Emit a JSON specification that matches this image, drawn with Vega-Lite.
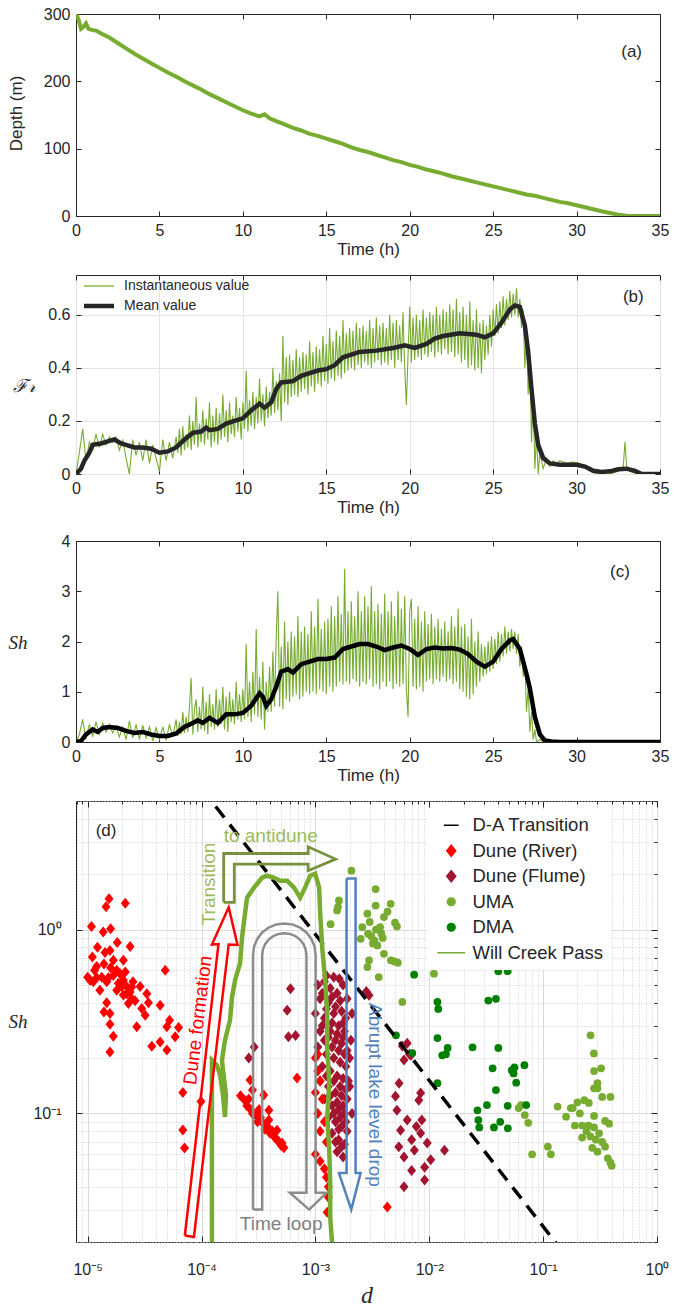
{
"$schema":"https://vega.github.io/schema/vega-lite/v6.json",
"background":"white",
"padding":{"left":6,"top":5,"right":4,"bottom":0},
"datasets":{
"depth":[{"t":0,"v":300},{"t":0.15,"v":292},{"t":0.3,"v":278},{"t":0.45,"v":281},{"t":0.6,"v":286},{"t":0.75,"v":278},{"t":1,"v":276},{"t":1.25,"v":275},{"t":1.5,"v":271},{"t":2,"v":265},{"t":2.5,"v":257},{"t":3,"v":249},{"t":3.5,"v":241},{"t":4,"v":234},{"t":4.5,"v":227},{"t":5,"v":220},{"t":5.5,"v":213},{"t":6,"v":207},{"t":6.5,"v":200},{"t":7,"v":194},{"t":7.5,"v":188},{"t":8,"v":181},{"t":8.5,"v":175},{"t":9,"v":169},{"t":9.5,"v":163},{"t":10,"v":157},{"t":10.5,"v":152},{"t":11,"v":148},{"t":11.3,"v":151},{"t":11.6,"v":145},{"t":12,"v":141},{"t":12.5,"v":136},{"t":13,"v":131},{"t":13.5,"v":127},{"t":14,"v":122},{"t":14.5,"v":119},{"t":15,"v":115},{"t":15.5,"v":111},{"t":16,"v":107},{"t":16.5,"v":102},{"t":17,"v":98},{"t":17.5,"v":95},{"t":18,"v":91},{"t":18.5,"v":87},{"t":19,"v":83},{"t":19.5,"v":80},{"t":20,"v":76},{"t":20.5,"v":73},{"t":21,"v":69},{"t":21.5,"v":66},{"t":22,"v":63},{"t":22.5,"v":59},{"t":23,"v":56},{"t":23.5,"v":53},{"t":24,"v":50},{"t":24.5,"v":47},{"t":25,"v":44},{"t":25.5,"v":41},{"t":26,"v":38},{"t":26.5,"v":35},{"t":27,"v":32},{"t":27.5,"v":30},{"t":28,"v":27},{"t":28.5,"v":24},{"t":29,"v":21},{"t":29.5,"v":19},{"t":30,"v":16},{"t":30.5,"v":13},{"t":31,"v":10},{"t":31.5,"v":7},{"t":32,"v":4.5},{"t":32.5,"v":2},{"t":33,"v":0.3},{"t":33.2,"v":0},{"t":35,"v":0}],
"frInst":[{"t":0,"v":0},{"t":0.2,"v":0.08},{"t":0.4,"v":0.17},{"t":0.6,"v":0.05},{"t":0.8,"v":0.12},{"t":1.0,"v":0.09},{"t":1.2,"v":0.15},{"t":1.4,"v":0.10},{"t":1.6,"v":0.15},{"t":1.8,"v":0.11},{"t":2.0,"v":0.14},{"t":2.2,"v":0.12},{"t":2.4,"v":0.14},{"t":2.6,"v":0.09},{"t":2.8,"v":0.13},{"t":3.0,"v":0.06},{"t":3.2,"v":0.0},{"t":3.4,"v":0.13},{"t":3.6,"v":0.07},{"t":3.8,"v":0.12},{"t":4.0,"v":0.05},{"t":4.2,"v":0.13},{"t":4.4,"v":0.04},{"t":4.6,"v":0.11},{"t":4.8,"v":0.06},{"t":5.0,"v":0.01},{"t":5.2,"v":0.13},{"t":5.4,"v":0.05},{"t":5.6,"v":0.12},{"t":5.8,"v":0.06},
{"t":6.0,"v":0.14},{"t":6.1,"v":0.08},{"t":6.2,"v":0.17},{"t":6.3,"v":0.07},{"t":6.4,"v":0.18},{"t":6.5,"v":0.09},{"t":6.6,"v":0.15},{"t":6.7,"v":0.10},{"t":6.8,"v":0.22},{"t":6.9,"v":0.09},{"t":7.0,"v":0.20},{"t":7.1,"v":0.11},{"t":7.2,"v":0.29},{"t":7.3,"v":0.10},{"t":7.4,"v":0.19},{"t":7.5,"v":0.12},{"t":7.6,"v":0.24},{"t":7.7,"v":0.11},{"t":7.8,"v":0.21},{"t":7.9,"v":0.13},{"t":8.0,"v":0.27},{"t":8.1,"v":0.10},{"t":8.2,"v":0.22},{"t":8.3,"v":0.12},{"t":8.4,"v":0.25},{"t":8.5,"v":0.11},{"t":8.6,"v":0.23},{"t":8.7,"v":0.13},{"t":8.8,"v":0.30},{"t":8.9,"v":0.14},{"t":9.0,"v":0.24},{"t":9.1,"v":0.12},{"t":9.2,"v":0.27},{"t":9.3,"v":0.15},{"t":9.4,"v":0.22},{"t":9.5,"v":0.14},{"t":9.6,"v":0.29},{"t":9.7,"v":0.16},{"t":9.8,"v":0.25},{"t":9.9,"v":0.13},
{"t":10.0,"v":0.27},{"t":10.1,"v":0.17},{"t":10.2,"v":0.39},{"t":10.3,"v":0.16},{"t":10.4,"v":0.28},{"t":10.5,"v":0.18},{"t":10.6,"v":0.31},{"t":10.7,"v":0.17},{"t":10.8,"v":0.29},{"t":10.9,"v":0.19},{"t":11.0,"v":0.36},{"t":11.1,"v":0.20},{"t":11.2,"v":0.30},{"t":11.3,"v":0.18},{"t":11.4,"v":0.33},{"t":11.5,"v":0.21},{"t":11.6,"v":0.31},{"t":11.7,"v":0.22},{"t":11.8,"v":0.40},{"t":11.9,"v":0.23},
{"t":12.0,"v":0.35},{"t":12.1,"v":0.24},{"t":12.2,"v":0.38},{"t":12.3,"v":0.20},{"t":12.4,"v":0.52},{"t":12.5,"v":0.27},{"t":12.6,"v":0.44},{"t":12.7,"v":0.26},{"t":12.8,"v":0.45},{"t":12.9,"v":0.29},{"t":13.0,"v":0.43},{"t":13.1,"v":0.30},{"t":13.2,"v":0.47},{"t":13.3,"v":0.29},{"t":13.4,"v":0.44},{"t":13.5,"v":0.31},{"t":13.6,"v":0.46},{"t":13.7,"v":0.32},{"t":13.8,"v":0.45},{"t":13.9,"v":0.30},
{"t":14.0,"v":0.50},{"t":14.1,"v":0.33},{"t":14.2,"v":0.46},{"t":14.3,"v":0.31},{"t":14.4,"v":0.48},{"t":14.5,"v":0.34},{"t":14.6,"v":0.47},{"t":14.7,"v":0.33},{"t":14.8,"v":0.52},{"t":14.9,"v":0.35},{"t":15.0,"v":0.49},{"t":15.1,"v":0.34},{"t":15.2,"v":0.55},{"t":15.3,"v":0.36},{"t":15.4,"v":0.50},{"t":15.5,"v":0.35},{"t":15.6,"v":0.54},{"t":15.7,"v":0.37},{"t":15.8,"v":0.52},{"t":15.9,"v":0.36},
{"t":16.0,"v":0.58},{"t":16.1,"v":0.38},{"t":16.2,"v":0.53},{"t":16.3,"v":0.39},{"t":16.4,"v":0.55},{"t":16.5,"v":0.40},{"t":16.6,"v":0.54},{"t":16.7,"v":0.39},{"t":16.8,"v":0.57},{"t":16.9,"v":0.41},{"t":17.0,"v":0.55},{"t":17.1,"v":0.40},{"t":17.2,"v":0.56},{"t":17.3,"v":0.42},{"t":17.4,"v":0.54},{"t":17.5,"v":0.41},{"t":17.6,"v":0.58},{"t":17.7,"v":0.40},{"t":17.8,"v":0.55},{"t":17.9,"v":0.42},
{"t":18.0,"v":0.59},{"t":18.1,"v":0.43},{"t":18.2,"v":0.56},{"t":18.3,"v":0.41},{"t":18.4,"v":0.57},{"t":18.5,"v":0.42},{"t":18.6,"v":0.55},{"t":18.7,"v":0.41},{"t":18.8,"v":0.60},{"t":18.9,"v":0.43},{"t":19.0,"v":0.57},{"t":19.1,"v":0.40},{"t":19.2,"v":0.58},{"t":19.3,"v":0.43},{"t":19.4,"v":0.56},{"t":19.5,"v":0.42},{"t":19.6,"v":0.61},{"t":19.7,"v":0.40},{"t":19.8,"v":0.26},{"t":19.9,"v":0.45},
{"t":20.0,"v":0.63},{"t":20.1,"v":0.42},{"t":20.2,"v":0.59},{"t":20.3,"v":0.43},{"t":20.4,"v":0.60},{"t":20.5,"v":0.44},{"t":20.6,"v":0.58},{"t":20.7,"v":0.43},{"t":20.8,"v":0.62},{"t":20.9,"v":0.45},{"t":21.0,"v":0.59},{"t":21.1,"v":0.44},{"t":21.2,"v":0.61},{"t":21.3,"v":0.46},{"t":21.4,"v":0.60},{"t":21.5,"v":0.44},{"t":21.6,"v":0.63},{"t":21.7,"v":0.46},{"t":21.8,"v":0.60},{"t":21.9,"v":0.45},
{"t":22.0,"v":0.62},{"t":22.1,"v":0.47},{"t":22.2,"v":0.61},{"t":22.3,"v":0.45},{"t":22.4,"v":0.64},{"t":22.5,"v":0.46},{"t":22.6,"v":0.62},{"t":22.7,"v":0.44},{"t":22.8,"v":0.66},{"t":22.9,"v":0.45},{"t":23.0,"v":0.61},{"t":23.1,"v":0.42},{"t":23.2,"v":0.63},{"t":23.3,"v":0.43},{"t":23.4,"v":0.60},{"t":23.5,"v":0.40},{"t":23.6,"v":0.65},{"t":23.7,"v":0.41},{"t":23.8,"v":0.58},{"t":23.9,"v":0.39},
{"t":24.0,"v":0.62},{"t":24.1,"v":0.40},{"t":24.2,"v":0.57},{"t":24.3,"v":0.38},{"t":24.4,"v":0.58},{"t":24.5,"v":0.43},{"t":24.6,"v":0.56},{"t":24.7,"v":0.45},{"t":24.8,"v":0.60},{"t":24.9,"v":0.48},{"t":25.0,"v":0.62},{"t":25.1,"v":0.52},{"t":25.2,"v":0.64},{"t":25.3,"v":0.53},{"t":25.4,"v":0.65},{"t":25.5,"v":0.55},{"t":25.6,"v":0.67},{"t":25.7,"v":0.56},{"t":25.8,"v":0.66},{"t":25.9,"v":0.58},
{"t":26.0,"v":0.69},{"t":26.1,"v":0.59},{"t":26.2,"v":0.68},{"t":26.3,"v":0.60},{"t":26.4,"v":0.70},{"t":26.5,"v":0.59},{"t":26.6,"v":0.66},{"t":26.7,"v":0.55},{"t":26.8,"v":0.62},{"t":26.9,"v":0.40},{"t":27.0,"v":0.55},{"t":27.1,"v":0.30},{"t":27.2,"v":0.45},{"t":27.3,"v":0.12},{"t":27.4,"v":0.30},{"t":27.5,"v":0.02},{"t":27.6,"v":0.15},{"t":27.7,"v":0.0},{"t":27.8,"v":0.08},
{"t":28.0,"v":0.02},{"t":28.2,"v":0.06},{"t":28.4,"v":0.03},{"t":28.6,"v":0.05},{"t":28.8,"v":0.04},{"t":29.0,"v":0.05},{"t":29.4,"v":0.04},{"t":29.8,"v":0.045},{"t":30.2,"v":0.04},{"t":30.6,"v":0.02},{"t":31.0,"v":0.005},{"t":31.5,"v":0},{"t":32.0,"v":0},{"t":32.5,"v":0.01},{"t":32.8,"v":0.03},{"t":32.9,"v":0.12},{"t":33.0,"v":0.03},{"t":33.2,"v":0.01},{"t":33.6,"v":0},{"t":35,"v":0}],
"frMean":[{"t":0,"v":0},{"t":0.3,"v":0.02},{"t":0.5,"v":0.05},{"t":0.8,"v":0.08},{"t":1.0,"v":0.11},{"t":1.5,"v":0.115},{"t":2.0,"v":0.125},{"t":2.3,"v":0.13},{"t":2.7,"v":0.115},{"t":3.0,"v":0.11},{"t":3.5,"v":0.10},{"t":4.0,"v":0.10},{"t":4.5,"v":0.095},{"t":5.0,"v":0.08},{"t":5.5,"v":0.085},{"t":6.0,"v":0.10},{"t":6.5,"v":0.13},{"t":7.0,"v":0.155},{"t":7.5,"v":0.16},{"t":7.8,"v":0.175},{"t":8.0,"v":0.165},{"t":8.5,"v":0.17},{"t":9.0,"v":0.19},{"t":9.5,"v":0.20},{"t":10.0,"v":0.21},{"t":10.5,"v":0.24},{"t":11.0,"v":0.265},{"t":11.3,"v":0.25},{"t":11.7,"v":0.27},{"t":12.0,"v":0.32},{"t":12.3,"v":0.345},{"t":13.0,"v":0.35},{"t":13.5,"v":0.37},{"t":14.0,"v":0.38},{"t":14.5,"v":0.39},{"t":15.0,"v":0.395},{"t":15.5,"v":0.41},{"t":16.0,"v":0.44},{"t":17.0,"v":0.46},{"t":18.0,"v":0.465},{"t":19.0,"v":0.475},{"t":19.7,"v":0.485},{"t":20.3,"v":0.475},{"t":21.0,"v":0.49},{"t":21.5,"v":0.51},{"t":22.0,"v":0.52},{"t":23.0,"v":0.53},{"t":24.0,"v":0.525},{"t":24.5,"v":0.515},{"t":25.0,"v":0.53},{"t":25.5,"v":0.57},{"t":26.0,"v":0.62},{"t":26.3,"v":0.635},{"t":26.6,"v":0.63},{"t":26.9,"v":0.56},{"t":27.1,"v":0.46},{"t":27.3,"v":0.32},{"t":27.5,"v":0.19},{"t":27.7,"v":0.11},{"t":28.0,"v":0.06},{"t":28.4,"v":0.04},{"t":29.0,"v":0.035},{"t":30.0,"v":0.035},{"t":30.5,"v":0.028},{"t":31.0,"v":0.012},{"t":31.5,"v":0.008},{"t":32.0,"v":0.01},{"t":32.5,"v":0.018},{"t":33.0,"v":0.02},{"t":33.5,"v":0.012},{"t":33.9,"v":0},{"t":35,"v":0}],
"shInst":[{"t":0,"v":0},{"t":0.2,"v":0.15},{"t":0.4,"v":0.45},{"t":0.6,"v":0.05},{"t":0.8,"v":0.35},{"t":1.0,"v":0.12},{"t":1.2,"v":0.40},{"t":1.4,"v":0.15},{"t":1.6,"v":0.38},{"t":1.8,"v":0.20},{"t":2.0,"v":0.35},{"t":2.2,"v":0.18},{"t":2.4,"v":0.32},{"t":2.6,"v":0.10},{"t":2.8,"v":0.30},{"t":3.0,"v":0.05},{"t":3.2,"v":0.42},{"t":3.4,"v":0.08},{"t":3.6,"v":0.35},{"t":3.8,"v":0.05},{"t":4.0,"v":0.33},{"t":4.2,"v":0.08},{"t":4.4,"v":0.30},{"t":4.6,"v":0.02},{"t":4.8,"v":0.28},{"t":5.0,"v":0.05},{"t":5.2,"v":0.30},{"t":5.4,"v":0.03},{"t":5.6,"v":0.35},{"t":5.8,"v":0.10},
{"t":6.0,"v":0.45},{"t":6.1,"v":0.12},{"t":6.2,"v":0.40},{"t":6.3,"v":0.15},{"t":6.4,"v":0.60},{"t":6.5,"v":0.18},{"t":6.6,"v":0.50},{"t":6.7,"v":0.20},{"t":6.8,"v":0.70},{"t":6.9,"v":1.28},{"t":7.0,"v":0.15},{"t":7.1,"v":0.65},{"t":7.2,"v":0.85},{"t":7.3,"v":0.20},{"t":7.4,"v":0.70},{"t":7.5,"v":0.25},{"t":7.6,"v":1.10},{"t":7.7,"v":0.22},{"t":7.8,"v":0.80},{"t":7.9,"v":0.15},
{"t":8.0,"v":0.95},{"t":8.1,"v":0.30},{"t":8.2,"v":0.75},{"t":8.3,"v":0.25},{"t":8.4,"v":1.05},{"t":8.5,"v":0.30},{"t":8.6,"v":0.85},{"t":8.7,"v":0.35},{"t":8.8,"v":1.10},{"t":8.9,"v":0.25},{"t":9.0,"v":0.90},{"t":9.1,"v":0.20},{"t":9.2,"v":1.00},{"t":9.3,"v":0.40},{"t":9.4,"v":0.85},{"t":9.5,"v":0.35},{"t":9.6,"v":1.20},{"t":9.7,"v":0.45},{"t":9.8,"v":0.95},{"t":9.9,"v":0.40},
{"t":10.0,"v":1.05},{"t":10.1,"v":0.45},{"t":10.2,"v":1.95},{"t":10.3,"v":0.50},{"t":10.4,"v":1.20},{"t":10.5,"v":0.40},{"t":10.6,"v":1.40},{"t":10.7,"v":0.55},{"t":10.8,"v":2.25},{"t":10.9,"v":0.50},{"t":11.0,"v":1.30},{"t":11.1,"v":0.45},{"t":11.2,"v":1.60},{"t":11.3,"v":0.25},{"t":11.4,"v":1.20},{"t":11.5,"v":0.60},{"t":11.6,"v":1.50},{"t":11.7,"v":0.60},{"t":11.8,"v":1.80},{"t":11.9,"v":0.70},
{"t":12.0,"v":2.10},{"t":12.1,"v":3.00},{"t":12.2,"v":0.70},{"t":12.3,"v":1.90},{"t":12.4,"v":0.65},{"t":12.5,"v":2.40},{"t":12.6,"v":0.85},{"t":12.7,"v":2.00},{"t":12.8,"v":0.80},{"t":12.9,"v":2.20},{"t":13.0,"v":0.90},{"t":13.1,"v":2.10},{"t":13.2,"v":0.95},{"t":13.3,"v":2.50},{"t":13.4,"v":0.85},{"t":13.5,"v":2.20},{"t":13.6,"v":0.90},{"t":13.7,"v":2.30},{"t":13.8,"v":1.00},{"t":13.9,"v":2.15},
{"t":14.0,"v":0.95},{"t":14.1,"v":2.60},{"t":14.2,"v":1.00},{"t":14.3,"v":2.30},{"t":14.4,"v":0.95},{"t":14.5,"v":2.85},{"t":14.6,"v":1.05},{"t":14.7,"v":2.25},{"t":14.8,"v":1.00},{"t":14.9,"v":2.40},{"t":15.0,"v":0.95},{"t":15.1,"v":2.45},{"t":15.2,"v":1.10},{"t":15.3,"v":2.70},{"t":15.4,"v":1.00},{"t":15.5,"v":2.50},{"t":15.6,"v":1.10},{"t":15.7,"v":2.90},{"t":15.8,"v":1.20},{"t":15.9,"v":2.55},
{"t":16.0,"v":1.15},{"t":16.1,"v":3.45},{"t":16.2,"v":1.20},{"t":16.3,"v":2.60},{"t":16.4,"v":1.15},{"t":16.5,"v":2.80},{"t":16.6,"v":1.25},{"t":16.7,"v":2.50},{"t":16.8,"v":1.20},{"t":16.9,"v":3.00},{"t":17.0,"v":1.10},{"t":17.1,"v":2.60},{"t":17.2,"v":1.20},{"t":17.3,"v":2.90},{"t":17.4,"v":1.15},{"t":17.5,"v":2.70},{"t":17.6,"v":1.25},{"t":17.7,"v":3.10},{"t":17.8,"v":1.10},{"t":17.9,"v":2.60},
{"t":18.0,"v":1.15},{"t":18.1,"v":2.75},{"t":18.2,"v":1.05},{"t":18.3,"v":2.55},{"t":18.4,"v":1.20},{"t":18.5,"v":2.95},{"t":18.6,"v":1.10},{"t":18.7,"v":2.60},{"t":18.8,"v":1.20},{"t":18.9,"v":2.80},{"t":19.0,"v":1.05},{"t":19.1,"v":2.50},{"t":19.2,"v":1.15},{"t":19.3,"v":3.00},{"t":19.4,"v":1.10},{"t":19.5,"v":2.65},{"t":19.6,"v":1.15},{"t":19.7,"v":2.90},{"t":19.8,"v":1.05},{"t":19.9,"v":0.50},
{"t":20.0,"v":2.60},{"t":20.1,"v":2.85},{"t":20.2,"v":1.10},{"t":20.3,"v":2.45},{"t":20.4,"v":1.05},{"t":20.5,"v":2.70},{"t":20.6,"v":1.10},{"t":20.7,"v":2.40},{"t":20.8,"v":1.00},{"t":20.9,"v":2.60},{"t":21.0,"v":1.20},{"t":21.1,"v":2.35},{"t":21.2,"v":1.25},{"t":21.3,"v":2.55},{"t":21.4,"v":1.15},{"t":21.5,"v":2.30},{"t":21.6,"v":1.25},{"t":21.7,"v":2.45},{"t":21.8,"v":1.20},{"t":21.9,"v":2.25},
{"t":22.0,"v":1.30},{"t":22.1,"v":2.40},{"t":22.2,"v":1.20},{"t":22.3,"v":2.20},{"t":22.4,"v":1.25},{"t":22.5,"v":2.50},{"t":22.6,"v":1.15},{"t":22.7,"v":2.30},{"t":22.8,"v":1.20},{"t":22.9,"v":2.65},{"t":23.0,"v":1.05},{"t":23.1,"v":2.30},{"t":23.2,"v":1.00},{"t":23.3,"v":2.35},{"t":23.4,"v":0.90},{"t":23.5,"v":2.10},{"t":23.6,"v":0.85},{"t":23.7,"v":2.45},{"t":23.8,"v":0.95},{"t":23.9,"v":2.00},
{"t":24.0,"v":1.10},{"t":24.1,"v":2.20},{"t":24.2,"v":1.20},{"t":24.3,"v":1.95},{"t":24.4,"v":1.30},{"t":24.5,"v":1.90},{"t":24.6,"v":1.35},{"t":24.7,"v":2.00},{"t":24.8,"v":1.40},{"t":24.9,"v":2.10},{"t":25.0,"v":1.45},{"t":25.1,"v":2.05},{"t":25.2,"v":1.55},{"t":25.3,"v":2.20},{"t":25.4,"v":1.60},{"t":25.5,"v":2.15},{"t":25.6,"v":1.70},{"t":25.7,"v":2.30},{"t":25.8,"v":1.75},{"t":25.9,"v":2.20},
{"t":26.0,"v":1.80},{"t":26.1,"v":2.25},{"t":26.2,"v":1.85},{"t":26.3,"v":2.20},{"t":26.4,"v":1.75},{"t":26.5,"v":2.15},{"t":26.6,"v":1.50},{"t":26.7,"v":1.90},{"t":26.8,"v":1.30},{"t":26.9,"v":1.60},{"t":27.0,"v":0.60},{"t":27.1,"v":1.10},{"t":27.2,"v":0.20},{"t":27.3,"v":0.60},{"t":27.4,"v":0.05},{"t":27.5,"v":0.25},{"t":27.6,"v":0},{"t":27.8,"v":0.05},{"t":28.0,"v":0},{"t":35,"v":0}],
"shMean":[{"t":0,"v":0},{"t":0.3,"v":0.02},{"t":0.6,"v":0.15},{"t":1.0,"v":0.25},{"t":1.3,"v":0.2},{"t":1.6,"v":0.28},{"t":2.0,"v":0.3},{"t":2.5,"v":0.28},{"t":3.0,"v":0.22},{"t":3.5,"v":0.18},{"t":4.0,"v":0.2},{"t":4.5,"v":0.15},{"t":5.0,"v":0.12},{"t":5.5,"v":0.12},{"t":6.0,"v":0.17},{"t":6.5,"v":0.3},{"t":7.0,"v":0.38},{"t":7.3,"v":0.43},{"t":7.6,"v":0.38},{"t":8.0,"v":0.48},{"t":8.5,"v":0.38},{"t":9.0,"v":0.55},{"t":9.5,"v":0.55},{"t":10.0,"v":0.58},{"t":10.5,"v":0.72},{"t":11.0,"v":0.97},{"t":11.2,"v":0.9},{"t":11.4,"v":0.72},{"t":11.7,"v":0.85},{"t":12.0,"v":1.1},{"t":12.3,"v":1.4},{"t":12.7,"v":1.45},{"t":13.0,"v":1.38},{"t":13.5,"v":1.55},{"t":14.0,"v":1.6},{"t":14.5,"v":1.65},{"t":15.0,"v":1.65},{"t":15.5,"v":1.68},{"t":16.0,"v":1.85},{"t":16.5,"v":1.9},{"t":17.0,"v":1.95},{"t":17.5,"v":1.95},{"t":18.0,"v":1.9},{"t":18.5,"v":1.83},{"t":19.0,"v":1.88},{"t":19.5,"v":1.92},{"t":20.0,"v":1.85},{"t":20.5,"v":1.73},{"t":21.0,"v":1.85},{"t":21.5,"v":1.88},{"t":22.0,"v":1.86},{"t":22.5,"v":1.87},{"t":23.0,"v":1.84},{"t":23.5,"v":1.75},{"t":24.0,"v":1.6},{"t":24.5,"v":1.5},{"t":25.0,"v":1.6},{"t":25.5,"v":1.85},{"t":26.0,"v":2.02},{"t":26.2,"v":2.05},{"t":26.6,"v":1.85},{"t":27.0,"v":1.35},{"t":27.2,"v":1.07},{"t":27.5,"v":0.5},{"t":27.8,"v":0.15},{"t":28.1,"v":0.03},{"t":28.5,"v":0.01},{"t":29,"v":0},{"t":35,"v":0}],
"scatter":[
{"d":6.04e-4,"sh":0.477,"series":"Dune (Flume)"},{"d":5.65e-4,"sh":0.364,"series":"Dune (Flume)"},{"d":5.8e-4,"sh":0.261,"series":"Dune (Flume)"},{"d":6.7e-4,"sh":0.265,"series":"Dune (Flume)"},{"d":2.6e-4,"sh":0.2,"series":"Dune (Flume)"},{"d":2.9e-4,"sh":0.23,"series":"Dune (Flume)"},
{"d":1.05e-3,"sh":0.5,"series":"Dune (Flume)"},{"d":1.2e-3,"sh":0.52,"series":"Dune (Flume)"},{"d":1.35e-3,"sh":0.48,"series":"Dune (Flume)"},{"d":1.55e-3,"sh":0.45,"series":"Dune (Flume)"},{"d":1.75e-3,"sh":0.5,"series":"Dune (Flume)"},{"d":1.9e-3,"sh":0.42,"series":"Dune (Flume)"},
{"d":1.1e-3,"sh":0.42,"series":"Dune (Flume)"},{"d":1.3e-3,"sh":0.4,"series":"Dune (Flume)"},{"d":1.5e-3,"sh":0.38,"series":"Dune (Flume)"},{"d":1.7e-3,"sh":0.36,"series":"Dune (Flume)"},{"d":1.85e-3,"sh":0.33,"series":"Dune (Flume)"},
{"d":1.0e-3,"sh":0.35,"series":"Dune (Flume)"},{"d":1.2e-3,"sh":0.33,"series":"Dune (Flume)"},{"d":1.4e-3,"sh":0.31,"series":"Dune (Flume)"},{"d":1.6e-3,"sh":0.3,"series":"Dune (Flume)"},{"d":1.8e-3,"sh":0.28,"series":"Dune (Flume)"},
{"d":1.1e-3,"sh":0.28,"series":"Dune (Flume)"},{"d":1.3e-3,"sh":0.26,"series":"Dune (Flume)"},{"d":1.5e-3,"sh":0.25,"series":"Dune (Flume)"},{"d":1.7e-3,"sh":0.24,"series":"Dune (Flume)"},{"d":1.9e-3,"sh":0.22,"series":"Dune (Flume)"},
{"d":1.05e-3,"sh":0.23,"series":"Dune (Flume)"},{"d":1.25e-3,"sh":0.21,"series":"Dune (Flume)"},{"d":1.45e-3,"sh":0.2,"series":"Dune (Flume)"},{"d":1.65e-3,"sh":0.19,"series":"Dune (Flume)"},{"d":1.85e-3,"sh":0.18,"series":"Dune (Flume)"},
{"d":1.15e-3,"sh":0.18,"series":"Dune (Flume)"},{"d":1.35e-3,"sh":0.17,"series":"Dune (Flume)"},{"d":1.55e-3,"sh":0.16,"series":"Dune (Flume)"},{"d":1.75e-3,"sh":0.155,"series":"Dune (Flume)"},{"d":1.95e-3,"sh":0.15,"series":"Dune (Flume)"},
{"d":1.1e-3,"sh":0.15,"series":"Dune (Flume)"},{"d":1.3e-3,"sh":0.14,"series":"Dune (Flume)"},{"d":1.5e-3,"sh":0.13,"series":"Dune (Flume)"},{"d":1.7e-3,"sh":0.125,"series":"Dune (Flume)"},{"d":1.9e-3,"sh":0.12,"series":"Dune (Flume)"},
{"d":1.2e-3,"sh":0.12,"series":"Dune (Flume)"},{"d":1.4e-3,"sh":0.11,"series":"Dune (Flume)"},{"d":1.6e-3,"sh":0.105,"series":"Dune (Flume)"},{"d":1.8e-3,"sh":0.1,"series":"Dune (Flume)"},
{"d":1.3e-3,"sh":0.095,"series":"Dune (Flume)"},{"d":1.5e-3,"sh":0.09,"series":"Dune (Flume)"},{"d":1.7e-3,"sh":0.085,"series":"Dune (Flume)"},{"d":1.9e-3,"sh":0.08,"series":"Dune (Flume)"},
{"d":1.4e-3,"sh":0.078,"series":"Dune (Flume)"},{"d":1.6e-3,"sh":0.072,"series":"Dune (Flume)"},{"d":1.8e-3,"sh":0.068,"series":"Dune (Flume)"},{"d":1.55e-3,"sh":0.062,"series":"Dune (Flume)"},{"d":1.75e-3,"sh":0.058,"series":"Dune (Flume)"},
{"d":2.0e-3,"sh":0.2,"series":"Dune (Flume)"},{"d":2.0e-3,"sh":0.14,"series":"Dune (Flume)"},{"d":2.1e-3,"sh":0.1,"series":"Dune (Flume)"},{"d":2.05e-3,"sh":0.25,"series":"Dune (Flume)"},{"d":2.1e-3,"sh":0.35,"series":"Dune (Flume)"},
{"d":1.25e-3,"sh":0.56,"series":"Dune (Flume)"},{"d":1.45e-3,"sh":0.55,"series":"Dune (Flume)"},{"d":1.62e-3,"sh":0.54,"series":"Dune (Flume)"},
{"d":1.15e-3,"sh":0.45,"series":"Dune (Flume)"},{"d":1.4e-3,"sh":0.43,"series":"Dune (Flume)"},{"d":1.65e-3,"sh":0.41,"series":"Dune (Flume)"},{"d":1.25e-3,"sh":0.37,"series":"Dune (Flume)"},{"d":1.45e-3,"sh":0.35,"series":"Dune (Flume)"},{"d":1.75e-3,"sh":0.31,"series":"Dune (Flume)"},{"d":1.15e-3,"sh":0.3,"series":"Dune (Flume)"},{"d":1.35e-3,"sh":0.28,"series":"Dune (Flume)"},{"d":1.55e-3,"sh":0.27,"series":"Dune (Flume)"},{"d":1.75e-3,"sh":0.26,"series":"Dune (Flume)"},{"d":1.2e-3,"sh":0.25,"series":"Dune (Flume)"},{"d":1.4e-3,"sh":0.23,"series":"Dune (Flume)"},{"d":1.6e-3,"sh":0.22,"series":"Dune (Flume)"},{"d":1.8e-3,"sh":0.21,"series":"Dune (Flume)"},{"d":1.25e-3,"sh":0.16,"series":"Dune (Flume)"},{"d":1.45e-3,"sh":0.15,"series":"Dune (Flume)"},{"d":1.65e-3,"sh":0.14,"series":"Dune (Flume)"},{"d":1.85e-3,"sh":0.135,"series":"Dune (Flume)"},{"d":1.35e-3,"sh":0.125,"series":"Dune (Flume)"},{"d":1.55e-3,"sh":0.115,"series":"Dune (Flume)"},{"d":1.75e-3,"sh":0.11,"series":"Dune (Flume)"},{"d":1.45e-3,"sh":0.1,"series":"Dune (Flume)"},{"d":1.65e-3,"sh":0.095,"series":"Dune (Flume)"},{"d":1.85e-3,"sh":0.09,"series":"Dune (Flume)"},{"d":1.6e-3,"sh":0.082,"series":"Dune (Flume)"},{"d":1.7e-3,"sh":0.066,"series":"Dune (Flume)"},{"d":1.5e-3,"sh":0.07,"series":"Dune (Flume)"},
{"d":2.96e-3,"sh":0.439,"series":"Dune (Flume)"},{"d":2.8e-3,"sh":0.46,"series":"Dune (Flume)"},{"d":6.4e-3,"sh":0.241,"series":"Dune (Flume)"},{"d":6.9e-3,"sh":0.207,"series":"Dune (Flume)"},{"d":6.0e-3,"sh":0.195,"series":"Dune (Flume)"},{"d":5.8e-3,"sh":0.233,"series":"Dune (Flume)"},{"d":6.7e-3,"sh":0.21,"series":"Dune (Flume)"},
{"d":5.43e-3,"sh":0.146,"series":"Dune (Flume)"},{"d":8.4e-3,"sh":0.129,"series":"Dune (Flume)"},{"d":8.1e-3,"sh":0.118,"series":"Dune (Flume)"},{"d":5.2e-3,"sh":0.104,"series":"Dune (Flume)"},{"d":6.4e-3,"sh":0.092,"series":"Dune (Flume)"},{"d":8.6e-3,"sh":0.092,"series":"Dune (Flume)"},{"d":8.4e-3,"sh":0.078,"series":"Dune (Flume)"},{"d":9.6e-3,"sh":0.069,"series":"Dune (Flume)"},{"d":7.4e-3,"sh":0.063,"series":"Dune (Flume)"},{"d":1.36e-2,"sh":0.063,"series":"Dune (Flume)"},{"d":5.4e-3,"sh":0.066,"series":"Dune (Flume)"},{"d":6.0e-3,"sh":0.058,"series":"Dune (Flume)"},{"d":7.0e-3,"sh":0.049,"series":"Dune (Flume)"},{"d":9.1e-3,"sh":0.051,"series":"Dune (Flume)"},{"d":6.0e-3,"sh":0.040,"series":"Dune (Flume)"},{"d":9.1e-3,"sh":0.0435,"series":"Dune (Flume)"},{"d":5.6e-3,"sh":0.081,"series":"Dune (Flume)"},{"d":7.0e-3,"sh":0.072,"series":"Dune (Flume)"},{"d":1.03e-2,"sh":0.056,"series":"Dune (Flume)"},{"d":7.7e-3,"sh":0.085,"series":"Dune (Flume)"},{"d":5.05e-3,"sh":0.124,"series":"Dune (Flume)"},
{"d":1.54e-5,"sh":1.47,"series":"Dune (River)"},{"d":2.14e-5,"sh":1.39,"series":"Dune (River)"},{"d":1.45e-5,"sh":1.33,"series":"Dune (River)"},{"d":1.08e-5,"sh":1.04,"series":"Dune (River)"},{"d":1.37e-5,"sh":0.97,"series":"Dune (River)"},{"d":1.59e-5,"sh":1.01,"series":"Dune (River)"},{"d":1.82e-5,"sh":0.85,"series":"Dune (River)"},{"d":2.36e-5,"sh":0.81,"series":"Dune (River)"},{"d":1.22e-5,"sh":0.80,"series":"Dune (River)"},{"d":1.57e-5,"sh":0.77,"series":"Dune (River)"},{"d":1.10e-5,"sh":0.71,"series":"Dune (River)"},{"d":1.42e-5,"sh":0.75,"series":"Dune (River)"},{"d":1.68e-5,"sh":0.68,"series":"Dune (River)"},{"d":2.06e-5,"sh":0.68,"series":"Dune (River)"},{"d":1.20e-5,"sh":0.63,"series":"Dune (River)"},{"d":1.39e-5,"sh":0.65,"series":"Dune (River)"},{"d":1.59e-5,"sh":0.62,"series":"Dune (River)"},{"d":1.80e-5,"sh":0.60,"series":"Dune (River)"},{"d":4.8e-5,"sh":0.60,"series":"Dune (River)"},{"d":1.05e-5,"sh":0.53,"series":"Dune (River)"},{"d":1.20e-5,"sh":0.547,"series":"Dune (River)"},{"d":1.33e-5,"sh":0.55,"series":"Dune (River)"},{"d":1.52e-5,"sh":0.547,"series":"Dune (River)"},{"d":1.68e-5,"sh":0.563,"series":"Dune (River)"},{"d":1.93e-5,"sh":0.575,"series":"Dune (River)"},{"d":2.14e-5,"sh":0.587,"series":"Dune (River)"},{"d":1.12e-5,"sh":0.52,"series":"Dune (River)"},{"d":1.47e-5,"sh":0.52,"series":"Dune (River)"},{"d":1.99e-5,"sh":0.49,"series":"Dune (River)"},{"d":2.2e-5,"sh":0.49,"series":"Dune (River)"},{"d":2.36e-5,"sh":0.457,"series":"Dune (River)"},{"d":2.06e-5,"sh":0.44,"series":"Dune (River)"},{"d":2.44e-5,"sh":0.42,"series":"Dune (River)"},{"d":2.89e-5,"sh":0.49,"series":"Dune (River)"},{"d":3.31e-5,"sh":0.448,"series":"Dune (River)"},{"d":2.61e-5,"sh":0.41,"series":"Dune (River)"},{"d":3.42e-5,"sh":0.40,"series":"Dune (River)"},{"d":4.33e-5,"sh":0.387,"series":"Dune (River)"},{"d":1.47e-5,"sh":0.40,"series":"Dune (River)"},{"d":1.39e-5,"sh":0.356,"series":"Dune (River)"},{"d":1.57e-5,"sh":0.35,"series":"Dune (River)"},{"d":2.99e-5,"sh":0.372,"series":"Dune (River)"},{"d":3.2e-5,"sh":0.342,"series":"Dune (River)"},{"d":1.57e-5,"sh":0.306,"series":"Dune (River)"},{"d":2.7e-5,"sh":0.296,"series":"Dune (River)"},{"d":5.24e-5,"sh":0.321,"series":"Dune (River)"},{"d":4.96e-5,"sh":0.296,"series":"Dune (River)"},{"d":6.29e-5,"sh":0.293,"series":"Dune (River)"},{"d":1.68e-5,"sh":0.263,"series":"Dune (River)"},{"d":5.87e-5,"sh":0.261,"series":"Dune (River)"},{"d":4.33e-5,"sh":0.245,"series":"Dune (River)"},{"d":3.66e-5,"sh":0.232,"series":"Dune (River)"},{"d":4.96e-5,"sh":0.221,"series":"Dune (River)"},{"d":1.57e-5,"sh":0.216,"series":"Dune (River)"},{"d":1.8e-5,"sh":0.467,"series":"Dune (River)"},{"d":2.06e-5,"sh":0.53,"series":"Dune (River)"},{"d":2.28e-5,"sh":0.396,"series":"Dune (River)"},{"d":1.28e-5,"sh":0.467,"series":"Dune (River)"},{"d":2.2e-5,"sh":0.448,"series":"Dune (River)"},{"d":2.44e-5,"sh":0.487,"series":"Dune (River)"},{"d":1.86e-5,"sh":0.51,"series":"Dune (River)"},{"d":1.0e-5,"sh":0.55,"series":"Dune (River)"},{"d":1.15e-5,"sh":0.6,"series":"Dune (River)"},{"d":2.5e-5,"sh":0.52,"series":"Dune (River)"},
{"d":6.85e-5,"sh":0.130,"series":"Dune (River)"},{"d":6.85e-5,"sh":0.0814,"series":"Dune (River)"},{"d":7.09e-5,"sh":0.0648,"series":"Dune (River)"},{"d":9.9e-5,"sh":0.116,"series":"Dune (River)"},
{"d":2.2e-4,"sh":0.125,"series":"Dune (River)"},{"d":2.4e-4,"sh":0.118,"series":"Dune (River)"},{"d":2.5e-4,"sh":0.11,"series":"Dune (River)"},{"d":2.6e-4,"sh":0.12,"series":"Dune (River)"},{"d":2.7e-4,"sh":0.105,"series":"Dune (River)"},{"d":2.8e-4,"sh":0.1,"series":"Dune (River)"},{"d":3.0e-4,"sh":0.098,"series":"Dune (River)"},{"d":3.1e-4,"sh":0.09,"series":"Dune (River)"},{"d":3.3e-4,"sh":0.095,"series":"Dune (River)"},{"d":3.5e-4,"sh":0.088,"series":"Dune (River)"},{"d":3.6e-4,"sh":0.082,"series":"Dune (River)"},{"d":3.8e-4,"sh":0.085,"series":"Dune (River)"},{"d":4.0e-4,"sh":0.078,"series":"Dune (River)"},{"d":4.2e-4,"sh":0.08,"series":"Dune (River)"},{"d":4.4e-4,"sh":0.074,"series":"Dune (River)"},{"d":4.6e-4,"sh":0.072,"series":"Dune (River)"},{"d":4.8e-4,"sh":0.07,"series":"Dune (River)"},{"d":5.0e-4,"sh":0.067,"series":"Dune (River)"},{"d":5.3e-4,"sh":0.065,"series":"Dune (River)"},{"d":3.2e-4,"sh":0.105,"series":"Dune (River)"},{"d":3.9e-4,"sh":0.092,"series":"Dune (River)"},{"d":2.67e-4,"sh":0.152,"series":"Dune (River)"},{"d":2.8e-4,"sh":0.134,"series":"Dune (River)"},{"d":3.52e-4,"sh":0.126,"series":"Dune (River)"},{"d":3.9e-4,"sh":0.104,"series":"Dune (River)"},{"d":4.6e-4,"sh":0.081,"series":"Dune (River)"},{"d":5.1e-4,"sh":0.069,"series":"Dune (River)"},
{"d":1.0e-3,"sh":0.2,"series":"Dune (River)"},{"d":1.05e-3,"sh":0.17,"series":"Dune (River)"},{"d":1.1e-3,"sh":0.15,"series":"Dune (River)"},{"d":1.0e-3,"sh":0.13,"series":"Dune (River)"},{"d":1.15e-3,"sh":0.12,"series":"Dune (River)"},{"d":1.05e-3,"sh":0.1,"series":"Dune (River)"},{"d":1.2e-3,"sh":0.09,"series":"Dune (River)"},{"d":1.1e-3,"sh":0.08,"series":"Dune (River)"},{"d":1.25e-3,"sh":0.07,"series":"Dune (River)"},{"d":1.0e-3,"sh":0.06,"series":"Dune (River)"},{"d":1.1e-3,"sh":0.055,"series":"Dune (River)"},{"d":1.2e-3,"sh":0.05,"series":"Dune (River)"},{"d":1.25e-3,"sh":0.045,"series":"Dune (River)"},{"d":1.3e-3,"sh":0.04,"series":"Dune (River)"},{"d":1.3e-3,"sh":0.035,"series":"Dune (River)"},{"d":1.27e-3,"sh":0.029,"series":"Dune (River)"},{"d":6.9e-4,"sh":0.156,"series":"Dune (River)"},{"d":4.28e-3,"sh":0.031,"series":"Dune (River)"},{"d":1.05e-3,"sh":0.21,"series":"Dune (River)"},
{"d":2.07e-3,"sh":2.09,"series":"UMA"},{"d":3.38e-3,"sh":1.66,"series":"UMA"},{"d":1.61e-3,"sh":1.44,"series":"UMA"},{"d":1.55e-3,"sh":1.27,"series":"UMA"},{"d":1.58e-3,"sh":1.33,"series":"UMA"},{"d":3.38e-3,"sh":1.35,"series":"UMA"},{"d":4.58e-3,"sh":1.38,"series":"UMA"},{"d":1.36e-3,"sh":1.07,"series":"UMA"},{"d":2.86e-3,"sh":1.22,"series":"UMA"},{"d":4.0e-3,"sh":1.17,"series":"UMA"},{"d":5.0e-3,"sh":1.09,"series":"UMA"},{"d":5.2e-3,"sh":1.04,"series":"UMA"},{"d":3.7e-3,"sh":1.03,"series":"UMA"},{"d":2.58e-3,"sh":1.03,"series":"UMA"},{"d":2.9e-3,"sh":0.95,"series":"UMA"},{"d":3.1e-3,"sh":0.92,"series":"UMA"},{"d":3.3e-3,"sh":0.87,"series":"UMA"},{"d":3.5e-3,"sh":0.82,"series":"UMA"},{"d":3.2e-3,"sh":0.84,"series":"UMA"},{"d":2.5e-3,"sh":0.89,"series":"UMA"},{"d":3.9e-3,"sh":0.9,"series":"UMA"},{"d":3.8e-3,"sh":0.95,"series":"UMA"},{"d":4.0e-3,"sh":0.738,"series":"UMA"},{"d":4.94e-3,"sh":0.671,"series":"UMA"},{"d":5.3e-3,"sh":0.66,"series":"UMA"},{"d":4.6e-3,"sh":0.68,"series":"UMA"},{"d":2.96e-3,"sh":0.68,"series":"UMA"},{"d":2.86e-3,"sh":0.625,"series":"UMA"},{"d":3.6e-3,"sh":0.552,"series":"UMA"},{"d":5.8e-3,"sh":0.404,"series":"UMA"},{"d":1.1e-2,"sh":0.575,"series":"UMA"},{"d":3.0e-3,"sh":1.1,"series":"UMA"},{"d":3.4e-3,"sh":1.0,"series":"UMA"},{"d":4.3e-3,"sh":1.25,"series":"UMA"},
{"d":0.261,"sh":0.266,"series":"UMA"},{"d":0.279,"sh":0.212,"series":"UMA"},{"d":0.323,"sh":0.176,"series":"UMA"},{"d":0.30,"sh":0.137,"series":"UMA"},{"d":0.28,"sh":0.137,"series":"UMA"},{"d":0.33,"sh":0.123,"series":"UMA"},{"d":0.39,"sh":0.123,"series":"UMA"},{"d":0.252,"sh":0.114,"series":"UMA"},{"d":0.182,"sh":0.107,"series":"UMA"},{"d":0.175,"sh":0.107,"series":"UMA"},{"d":0.134,"sh":0.109,"series":"UMA"},{"d":0.159,"sh":0.096,"series":"UMA"},{"d":0.28,"sh":0.097,"series":"UMA"},{"d":0.35,"sh":0.091,"series":"UMA"},{"d":0.38,"sh":0.088,"series":"UMA"},{"d":0.19,"sh":0.086,"series":"UMA"},{"d":0.22,"sh":0.086,"series":"UMA"},{"d":0.25,"sh":0.086,"series":"UMA"},{"d":0.28,"sh":0.084,"series":"UMA"},{"d":0.064,"sh":0.111,"series":"UMA"},{"d":0.069,"sh":0.098,"series":"UMA"},{"d":0.074,"sh":0.089,"series":"UMA"},{"d":0.37,"sh":0.057,"series":"UMA"},{"d":0.40,"sh":0.052,"series":"UMA"},{"d":0.39,"sh":0.054,"series":"UMA"},{"d":0.24,"sh":0.08,"series":"UMA"},{"d":0.26,"sh":0.075,"series":"UMA"},{"d":0.29,"sh":0.072,"series":"UMA"},{"d":0.31,"sh":0.078,"series":"UMA"},{"d":0.22,"sh":0.074,"series":"UMA"},{"d":0.33,"sh":0.07,"series":"UMA"},{"d":0.11,"sh":0.066,"series":"UMA"},{"d":0.117,"sh":0.06,"series":"UMA"},{"d":0.08,"sh":0.06,"series":"UMA"},{"d":0.061,"sh":0.107,"series":"UMA"},{"d":0.2,"sh":0.115,"series":"UMA"},{"d":0.23,"sh":0.118,"series":"UMA"},{"d":0.3,"sh":0.146,"series":"UMA"},{"d":0.28,"sh":0.17,"series":"UMA"},{"d":0.21,"sh":0.1,"series":"UMA"},{"d":0.27,"sh":0.065,"series":"UMA"},{"d":0.35,"sh":0.066,"series":"UMA"},{"d":0.3,"sh":0.062,"series":"UMA"},
{"d":4.04e-2,"sh":0.594,"series":"DMA"},{"d":4.88e-2,"sh":0.594,"series":"DMA"},{"d":3.30e-2,"sh":0.411,"series":"DMA"},{"d":3.85e-2,"sh":0.42,"series":"DMA"},{"d":2.40e-2,"sh":0.229,"series":"DMA"},{"d":4.04e-2,"sh":0.227,"series":"DMA"},{"d":3.6e-2,"sh":0.176,"series":"DMA"},{"d":5.3e-2,"sh":0.172,"series":"DMA"},{"d":5.6e-2,"sh":0.178,"series":"DMA"},{"d":5.5e-2,"sh":0.165,"series":"DMA"},{"d":6.85e-2,"sh":0.183,"series":"DMA"},{"d":5.8e-2,"sh":0.147,"series":"DMA"},{"d":3.85e-2,"sh":0.134,"series":"DMA"},{"d":3.21e-2,"sh":0.111,"series":"DMA"},{"d":4.88e-2,"sh":0.110,"series":"DMA"},{"d":7.1e-2,"sh":0.111,"series":"DMA"},{"d":2.65e-2,"sh":0.104,"series":"DMA"},{"d":2.7e-2,"sh":0.092,"series":"DMA"},{"d":2.75e-2,"sh":0.084,"series":"DMA"},{"d":4.2e-2,"sh":0.090,"series":"DMA"},{"d":4.9e-2,"sh":0.083,"series":"DMA"},{"d":3.7e-2,"sh":0.084,"series":"DMA"},{"d":7.36e-3,"sh":0.568,"series":"DMA"},{"d":1.18e-2,"sh":0.404,"series":"DMA"},{"d":1.2e-2,"sh":0.37,"series":"DMA"},{"d":1.18e-2,"sh":0.257,"series":"DMA"},{"d":1.45e-2,"sh":0.227,"series":"DMA"},{"d":1.4e-2,"sh":0.21,"series":"DMA"},{"d":5.1e-3,"sh":0.266,"series":"DMA"},{"d":7.1e-3,"sh":0.213,"series":"DMA"},{"d":1.3e-2,"sh":0.207,"series":"DMA"},{"d":1.18e-2,"sh":0.146,"series":"DMA"}
],
"wcp":[{"i":1,"d":1.234e-4,"sh":0.019},{"i":2,"d":1.234e-4,"sh":0.118},{"i":3,"d":1.234e-4,"sh":0.195},{"i":4,"d":1.366e-4,"sh":0.183},{"i":5,"d":1.452e-4,"sh":0.162},{"i":6,"d":1.543e-4,"sh":0.126},{"i":7,"d":1.607e-4,"sh":0.0957},{"i":8,"d":1.64e-4,"sh":0.126},{"i":9,"d":1.543e-4,"sh":0.172},{"i":10,"d":1.512e-4,"sh":0.195},{"i":11,"d":1.607e-4,"sh":0.25},{"i":12,"d":1.778e-4,"sh":0.321},{"i":13,"d":1.852e-4,"sh":0.428},{"i":14,"d":1.968e-4,"sh":0.529},{"i":15,"d":2.178e-4,"sh":0.654},{"i":16,"d":2.268e-4,"sh":0.905},{"i":17,"d":2.41e-4,"sh":1.221},{"i":18,"d":2.51e-4,"sh":1.491},{"i":19,"d":2.89e-4,"sh":1.689},{"i":20,"d":3.4e-4,"sh":1.913},{"i":21,"d":3.77e-4,"sh":1.962},{"i":22,"d":4.34e-4,"sh":1.913},{"i":23,"d":4.9e-4,"sh":1.844},{"i":24,"d":5.65e-4,"sh":1.844},{"i":25,"d":6.5e-4,"sh":1.689},{"i":26,"d":7.35e-4,"sh":1.491},{"i":27,"d":8.12e-4,"sh":1.689},{"i":28,"d":8.99e-4,"sh":1.962},{"i":29,"d":9.95e-4,"sh":2.012},{"i":30,"d":1.079e-3,"sh":1.689},{"i":31,"d":1.102e-3,"sh":1.221},{"i":32,"d":1.148e-3,"sh":0.799},{"i":33,"d":1.219e-3,"sh":0.529},{"i":34,"d":1.271e-3,"sh":0.351},{"i":35,"d":1.271e-3,"sh":0.229},{"i":36,"d":1.323e-3,"sh":0.146},{"i":37,"d":1.271e-3,"sh":0.0957},{"i":38,"d":1.323e-3,"sh":0.0634},{"i":39,"d":1.349e-3,"sh":0.042},{"i":40,"d":1.349e-3,"sh":0.0275},{"i":41,"d":1.406e-3,"sh":0.019}],
"da":[{"i":1,"d":1e-4,"sh":5.86},{"i":2,"d":0.2,"sh":0.014}],
"arrowRed":[{"i":1,"d":7.14e-5,"sh":0.0217},{"i":2,"d":1.409e-4,"sh":0.834},{"i":3,"d":1.234e-4,"sh":0.829},{"i":4,"d":1.732e-4,"sh":1.321},{"i":5,"d":2.07e-4,"sh":0.824},{"i":6,"d":1.732e-4,"sh":0.829},{"i":7,"d":8.57e-5,"sh":0.0213},{"i":8,"d":7.14e-5,"sh":0.0217}],
"arrowGreen":[{"i":1,"d":1.565e-4,"sh":1.406},{"i":2,"d":1.565e-4,"sh":2.592},{"i":3,"d":8.64e-4,"sh":2.592},{"i":4,"d":8.64e-4,"sh":2.818},{"i":5,"d":1.503e-3,"sh":2.416},{"i":6,"d":8.64e-4,"sh":2.088},{"i":7,"d":8.64e-4,"sh":2.27},{"i":8,"d":1.94e-4,"sh":2.27},{"i":9,"d":1.94e-4,"sh":1.406},{"i":10,"d":1.565e-4,"sh":1.406}],
"loopGray":[{"i":1,"d":2.835e-4,"sh":0.03},{"i":2,"d":2.835e-4,"sh":0.732},{"i":3,"d":2.896e-4,"sh":0.81},{"i":4,"d":3.085e-4,"sh":0.889},{"i":5,"d":3.41e-4,"sh":0.964},{"i":6,"d":3.89e-4,"sh":1.025},{"i":7,"d":4.53e-4,"sh":1.066},{"i":8,"d":5.335e-4,"sh":1.08},{"i":9,"d":6.284e-4,"sh":1.066},{"i":10,"d":7.318e-4,"sh":1.025},{"i":11,"d":8.342e-4,"sh":0.964},{"i":12,"d":9.222e-4,"sh":0.889},{"i":13,"d":9.826e-4,"sh":0.81},{"i":14,"d":1.0042e-3,"sh":0.732},{"i":15,"d":1.0042e-3,"sh":0.0371},{"i":16,"d":1.252e-3,"sh":0.0371},{"i":17,"d":8.82e-4,"sh":0.03},{"i":18,"d":5.964e-4,"sh":0.0371},{"i":19,"d":8.35e-4,"sh":0.0371},{"i":20,"d":8.35e-4,"sh":0.726},{"i":21,"d":8.225e-4,"sh":0.779},{"i":22,"d":7.863e-4,"sh":0.833},{"i":23,"d":7.32e-4,"sh":0.882},{"i":24,"d":6.675e-4,"sh":0.922},{"i":25,"d":5.99e-4,"sh":0.947},{"i":26,"d":5.335e-4,"sh":0.956},{"i":27,"d":4.751e-4,"sh":0.947},{"i":28,"d":4.264e-4,"sh":0.922},{"i":29,"d":3.886e-4,"sh":0.882},{"i":30,"d":3.62e-4,"sh":0.833},{"i":31,"d":3.46e-4,"sh":0.779},{"i":32,"d":3.409e-4,"sh":0.726},{"i":33,"d":3.409e-4,"sh":0.03},{"i":34,"d":2.835e-4,"sh":0.03}],
"arrowBlue":[{"i":1,"d":1.878e-3,"sh":1.897},{"i":2,"d":2.254e-3,"sh":1.897},{"i":3,"d":2.254e-3,"sh":0.0474},{"i":4,"d":2.495e-3,"sh":0.0474},{"i":5,"d":2.066e-3,"sh":0.03},{"i":6,"d":1.61e-3,"sh":0.0474},{"i":7,"d":1.878e-3,"sh":0.0474},{"i":8,"d":1.878e-3,"sh":1.897}]
},
"concat":[
{
"width":584,"height":202,
"encoding":{
"x":{"field":"t","type":"quantitative","scale":{"domain":[0,35],"nice":false,"zero":false},"axis":null},
"y":{"field":"v","type":"quantitative","scale":{"domain":[0,300],"nice":false},"axis":null}
},
"layer":[
{"data":{"name":"depth"},"mark":{"type":"line","color":"#77AC30","strokeWidth":4,"clip":true},
"encoding":{
"x":{"field":"t","type":"quantitative","scale":{"domain":[0,35],"nice":false,"zero":false},"axis":{"values":[0,5,10,15,20,25,30,35],"title":"Time (h)"}},
"y":{"field":"v","type":"quantitative","scale":{"domain":[0,300],"nice":false},"axis":{"values":[0,100,200,300],"title":"Depth (m)","titleAngle":270,"titleX":-60,"titleY":99,"titleBaseline":"middle","titleAlign":"center"}}
}},
{"data":{"values":[{"t":33.3,"v":244,"label":"(a)"}]},"mark":{"type":"text","fontSize":17,"color":"#262626"},
"encoding":{
"x":{"field":"t","type":"quantitative","scale":{"domain":[0,35],"nice":false,"zero":false},"axis":{"orient":"top","values":[0,5,10,15,20,25,30,35],"labels":false,"title":null}},
"y":{"field":"v","type":"quantitative","scale":{"domain":[0,300],"nice":false},"axis":{"orient":"right","values":[0,100,200,300],"labels":false,"title":null}},
"text":{"field":"label"}
}}
],
"resolve":{"axis":{"x":"independent","y":"independent"}}
},
{
"width":584,"height":199,
"encoding":{
"x":{"field":"t","type":"quantitative","scale":{"domain":[0,35],"nice":false,"zero":false},"axis":null},
"y":{"field":"v","type":"quantitative","scale":{"domain":[0,0.75],"nice":false},"axis":null}
},
"layer":[
{"data":{"name":"frInst"},"mark":{"type":"line","strokeWidth":1.1,"clip":true},
"encoding":{
"x":{"field":"t","type":"quantitative","scale":{"domain":[0,35],"nice":false,"zero":false},"axis":{"values":[0,5,10,15,20,25,30,35],"title":"Time (h)","grid":true}},
"y":{"field":"v","type":"quantitative","scale":{"domain":[0,0.75],"nice":false},"axis":{"values":[0,0.2,0.4,0.6],"format":"~g","grid":true,"title":"ℱ𝓇","titleAngle":0,"titleAlign":"left","titleBaseline":"middle","titleX":-64,"titleY":111,"titleFont":"DejaVu Serif","titleFontStyle":"italic","titleFontSize":18}},
"color":{"datum":"Instantaneous value","type":"nominal","scale":{"domain":["Instantaneous value","Mean value"],"range":["#77AC30","#262626"]},
"legend":{"title":null,"orient":"none","legendX":16,"legendY":4,"padding":0,"symbolType":"stroke","symbolSize":900,"symbolOffset":0,"labelOffset":18,"rowPadding":4,"labelFontSize":14,"labelFont":"Liberation Sans","labelColor":"#262626","encode":{"symbols":{"update":{"strokeWidth":{"signal":"datum.value === 'Mean value' ? 4.5 : 1.3"}}}}}}
}},
{"data":{"name":"frMean"},"mark":{"type":"line","strokeWidth":4.5,"clip":true},
"encoding":{
"color":{"datum":"Mean value","type":"nominal","scale":{"domain":["Instantaneous value","Mean value"],"range":["#77AC30","#262626"]},
"legend":{"title":null,"orient":"none","legendX":16,"legendY":4,"padding":0,"symbolType":"stroke","symbolSize":900,"symbolOffset":0,"labelOffset":18,"rowPadding":4,"labelFontSize":14,"labelFont":"Liberation Sans","labelColor":"#262626","encode":{"symbols":{"update":{"strokeWidth":{"signal":"datum.value === 'Mean value' ? 4.5 : 1.3"}}}}}}
}},
{"data":{"values":[{"t":33.4,"v":0.666,"label":"(b)"}]},"mark":{"type":"text","fontSize":17,"color":"#262626"},
"encoding":{
"x":{"field":"t","type":"quantitative","scale":{"domain":[0,35],"nice":false,"zero":false},"axis":{"orient":"top","values":[0,5,10,15,20,25,30,35],"labels":false,"title":null}},
"y":{"field":"v","type":"quantitative","scale":{"domain":[0,0.75],"nice":false},"axis":{"orient":"right","values":[0,0.2,0.4,0.6],"labels":false,"title":null}},
"text":{"field":"label"}
}}
],
"resolve":{"axis":{"x":"independent","y":"independent"}}
},
{
"width":584,"height":201,
"encoding":{
"x":{"field":"t","type":"quantitative","scale":{"domain":[0,35],"nice":false,"zero":false},"axis":null},
"y":{"field":"v","type":"quantitative","scale":{"domain":[0,4],"nice":false},"axis":null}
},
"layer":[
{"data":{"name":"shInst"},"mark":{"type":"line","strokeWidth":1.1,"color":"#77AC30","clip":true},
"encoding":{
"x":{"field":"t","type":"quantitative","scale":{"domain":[0,35],"nice":false,"zero":false},"axis":{"values":[0,5,10,15,20,25,30,35],"title":"Time (h)"}},
"y":{"field":"v","type":"quantitative","scale":{"domain":[0,4],"nice":false},"axis":{"values":[0,1,2,3,4],"title":"Sh","titleAngle":0,"titleAlign":"left","titleBaseline":"middle","titleX":-68,"titleY":101,"titleFont":"Liberation Serif","titleFontStyle":"italic","titleFontSize":19}}
}},
{"data":{"name":"shMean"},"mark":{"type":"line","strokeWidth":4.5,"color":"#000000","clip":true}},
{"data":{"values":[{"t":32.6,"v":3.39,"label":"(c)"}]},"mark":{"type":"text","fontSize":17,"color":"#262626"},
"encoding":{
"x":{"field":"t","type":"quantitative","scale":{"domain":[0,35],"nice":false,"zero":false},"axis":{"orient":"top","values":[0,5,10,15,20,25,30,35],"labels":false,"title":null}},
"y":{"field":"v","type":"quantitative","scale":{"domain":[0,4],"nice":false},"axis":{"orient":"right","values":[0,1,2,3,4],"labels":false,"title":null}},
"text":{"field":"label"}
}}
],
"resolve":{"axis":{"x":"independent","y":"independent"}}
},
{
"width":581,"height":441,
"encoding":{
"x":{"field":"d","type":"quantitative","scale":{"type":"log","domain":[7.9e-6,1],"nice":false},"axis":null},
"y":{"field":"sh","type":"quantitative","scale":{"type":"log","domain":[0.02,5],"nice":false},"axis":null}
},
"layer":[
{"data":{"name":"scatter"},"mark":{"type":"point","filled":true,"size":60,"opacity":1,"strokeWidth":0},
"encoding":{
"x":{"field":"d","type":"quantitative","scale":{"type":"log","domain":[7.9e-6,1],"nice":false},
"axis":{"values":[1e-5,1e-4,0.001,0.01,0.1,1],
"labelExpr":"['10⁻⁵','10⁻⁴','10⁻³','10⁻²','10⁻¹','10⁰'][round(log(datum.value)/LN10)+5]",
"labelPadding":25,"tickSize":-6,"title":"d","titleFont":"Liberation Serif","titleFontStyle":"italic","titleFontSize":24,"titlePadding":6,"grid":true,"gridColor":"#DADADA"}},
"y":{"field":"sh","type":"quantitative","scale":{"type":"log","domain":[0.02,5],"nice":false},
"axis":{"values":[0.1,1],
"labelExpr":"['10⁻¹','10⁰'][round(log(datum.value)/LN10)+1]",
"labelPadding":21,"tickSize":-6,"title":"Sh","titleAngle":0,"titleAlign":"left","titleBaseline":"middle","titleX":-68,"titleY":220,"titleFont":"Liberation Serif","titleFontStyle":"italic","titleFontSize":19,"grid":true,"gridColor":"#DADADA"}},
"color":{"field":"series","type":"nominal","scale":{"domain":["D-A Transition","Dune (River)","Dune (Flume)","UMA","DMA","Will Creek Pass"],"range":["#000000","#FF0000","#A2142F","#77AC30","#008000","#77AC30"]},
"legend":{"title":null,"orient":"none","legendX":351,"legendY":8,"fillColor":"white","padding":7,"labelFontSize":18.5,"labelFont":"Liberation Sans","labelColor":"#262626","symbolSize":60,"rowPadding":6.5,"labelOffset":12,"symbolOffset":8,"labelLimit":300,
"encode":{"symbols":{"update":{"stroke":{"signal":"datum.value === 'D-A Transition' ? '#000000' : datum.value === 'Will Creek Pass' ? '#77AC30' : 'transparent'"},"strokeWidth":{"signal":"(datum.value === 'D-A Transition' || datum.value === 'Will Creek Pass') ? 4 : 0"}}}}}},
"shape":{"field":"series","type":"nominal","scale":{"domain":["D-A Transition","Dune (River)","Dune (Flume)","UMA","DMA","Will Creek Pass"],"range":["M-1.9,0L1.9,0","M0,-1.42L1.16,0L0,1.42L-1.16,0Z","M0,-1.42L1.16,0L0,1.42L-1.16,0Z","circle","circle","M-3.6,0L3.6,0"]},
"legend":{"title":null,"orient":"none","legendX":351,"legendY":8,"fillColor":"white","padding":7,"labelFontSize":18.5,"labelFont":"Liberation Sans","labelColor":"#262626","symbolSize":60,"rowPadding":6.5,"labelOffset":12,"symbolOffset":8,"labelLimit":300,
"encode":{"symbols":{"update":{"stroke":{"signal":"datum.value === 'D-A Transition' ? '#000000' : datum.value === 'Will Creek Pass' ? '#77AC30' : 'transparent'"},"strokeWidth":{"signal":"(datum.value === 'D-A Transition' || datum.value === 'Will Creek Pass') ? 4 : 0"}}}}}}
}},
{"data":{"name":"da"},"mark":{"type":"line","strokeWidth":3.5,"strokeDash":[14,9],"clip":true},
"encoding":{"order":{"field":"i"},"color":{"datum":"D-A Transition","type":"nominal","scale":{"domain":["D-A Transition","Dune (River)","Dune (Flume)","UMA","DMA","Will Creek Pass"],"range":["#000000","#FF0000","#A2142F","#77AC30","#008000","#77AC30"]},"legend":null}}},
{"data":{"name":"wcp"},"mark":{"type":"line","strokeWidth":4.5,"clip":true},
"encoding":{"order":{"field":"i"},"color":{"datum":"Will Creek Pass","type":"nominal","scale":{"domain":["D-A Transition","Dune (River)","Dune (Flume)","UMA","DMA","Will Creek Pass"],"range":["#000000","#FF0000","#A2142F","#77AC30","#008000","#77AC30"]},"legend":null}}},
{"data":{"name":"arrowRed"},"mark":{"type":"line","color":"#FF0000","strokeWidth":2.5,"clip":true},"encoding":{"order":{"field":"i"}}},
{"data":{"name":"arrowGreen"},"mark":{"type":"line","color":"#76923C","strokeWidth":2.8,"clip":true},"encoding":{"order":{"field":"i"}}},
{"data":{"name":"loopGray"},"mark":{"type":"line","color":"#8C8C8C","strokeWidth":2.5,"clip":true},"encoding":{"order":{"field":"i"}}},
{"data":{"name":"arrowBlue"},"mark":{"type":"line","color":"#4F81BD","strokeWidth":2.5,"clip":true},"encoding":{"order":{"field":"i"}}},
{"data":{"values":[{"d":9.29e-5,"sh":0.321,"label":"Dune formation"}]},"mark":{"type":"text","fontSize":19,"color":"#FF0000","angle":277,"align":"center","baseline":"middle"},"encoding":{"text":{"field":"label"}}},
{"data":{"values":[{"d":1.155e-4,"sh":1.769,"label":"Transition"}]},"mark":{"type":"text","fontSize":19,"color":"#9BBB59","angle":270,"align":"center","baseline":"middle"},"encoding":{"text":{"field":"label"}}},
{"data":{"values":[{"d":1.565e-4,"sh":3.233,"label":"to  antidune"}]},"mark":{"type":"text","fontSize":19,"color":"#9BBB59","align":"left","baseline":"middle"},"encoding":{"text":{"field":"label"}}},
{"data":{"values":[{"d":5.0e-4,"sh":0.0249,"label":"Time loop"}]},"mark":{"type":"text","fontSize":19,"color":"#808080","align":"center","baseline":"middle"},"encoding":{"text":{"field":"label"}}},
{"data":{"values":[{"d":3.33e-3,"sh":0.126,"label":"Abrupt lake level drop"}]},"mark":{"type":"text","fontSize":19,"color":"#4F81BD","angle":90,"align":"center","baseline":"middle"},"encoding":{"text":{"field":"label"}}},
{"data":{"values":[{"d":1.45e-5,"sh":3.44,"label":"(d)"}]},"mark":{"type":"text","fontSize":17,"color":"#262626","align":"center","baseline":"middle"},
"encoding":{
"x":{"field":"d","type":"quantitative","scale":{"type":"log","domain":[7.9e-6,1],"nice":false},
"axis":{"orient":"top","labels":false,"title":null,"values":[8e-6,9e-6,1e-5,2e-5,3e-5,4e-5,5e-5,6e-5,7e-5,8e-5,9e-5,1e-4,2e-4,3e-4,4e-4,5e-4,6e-4,7e-4,8e-4,9e-4,0.001,0.002,0.003,0.004,0.005,0.006,0.007,0.008,0.009,0.01,0.02,0.03,0.04,0.05,0.06,0.07,0.08,0.09,0.1,0.2,0.3,0.4,0.5,0.6,0.7,0.8,0.9,1],
"grid":true,"gridColor":"#CCCCCC","gridDash":[1,2],
"gridOpacity":{"condition":{"test":"abs(log(datum.value)/LN10 - round(log(datum.value)/LN10)) < 0.001","value":0},"value":1},
"tickSize":{"condition":{"test":"abs(log(datum.value)/LN10 - round(log(datum.value)/LN10)) < 0.001","value":-6},"value":-3}}},
"y":{"field":"sh","type":"quantitative","scale":{"type":"log","domain":[0.02,5],"nice":false},
"axis":{"orient":"right","labels":false,"title":null,"values":[0.02,0.03,0.04,0.05,0.06,0.07,0.08,0.09,0.1,0.2,0.3,0.4,0.5,0.6,0.7,0.8,0.9,1,2,3,4,5],
"grid":true,"gridColor":"#CCCCCC","gridDash":[1,2],
"gridOpacity":{"condition":{"test":"abs(log(datum.value)/LN10 - round(log(datum.value)/LN10)) < 0.001","value":0},"value":1},
"tickSize":{"condition":{"test":"abs(log(datum.value)/LN10 - round(log(datum.value)/LN10)) < 0.001","value":-6},"value":-3}}},
"text":{"field":"label"}
}}
],
"resolve":{"axis":{"x":"independent","y":"independent"}}
}
],
"columns":1,
"align":"none",
"bounds":"full",
"spacing":16,
"resolve":{"scale":{"color":"independent","shape":"independent"}},
"config":{
"font":"Liberation Sans",
"view":{"stroke":"#262626","strokeWidth":1},
"axis":{"domain":false,"grid":false,"ticks":true,"tickSize":-5,"tickColor":"#262626","tickWidth":1,"labelFont":"Liberation Sans","labelFontSize":16,"labelColor":"#262626","labelPadding":11,"labelFlush":false,"labelOverlap":false,"titleFont":"Liberation Sans","titleFontSize":17,"titleFontWeight":"normal","titleColor":"#262626","titlePadding":3,"gridColor":"#E3E3E3"},
"text":{"font":"Liberation Sans"}
}
}
